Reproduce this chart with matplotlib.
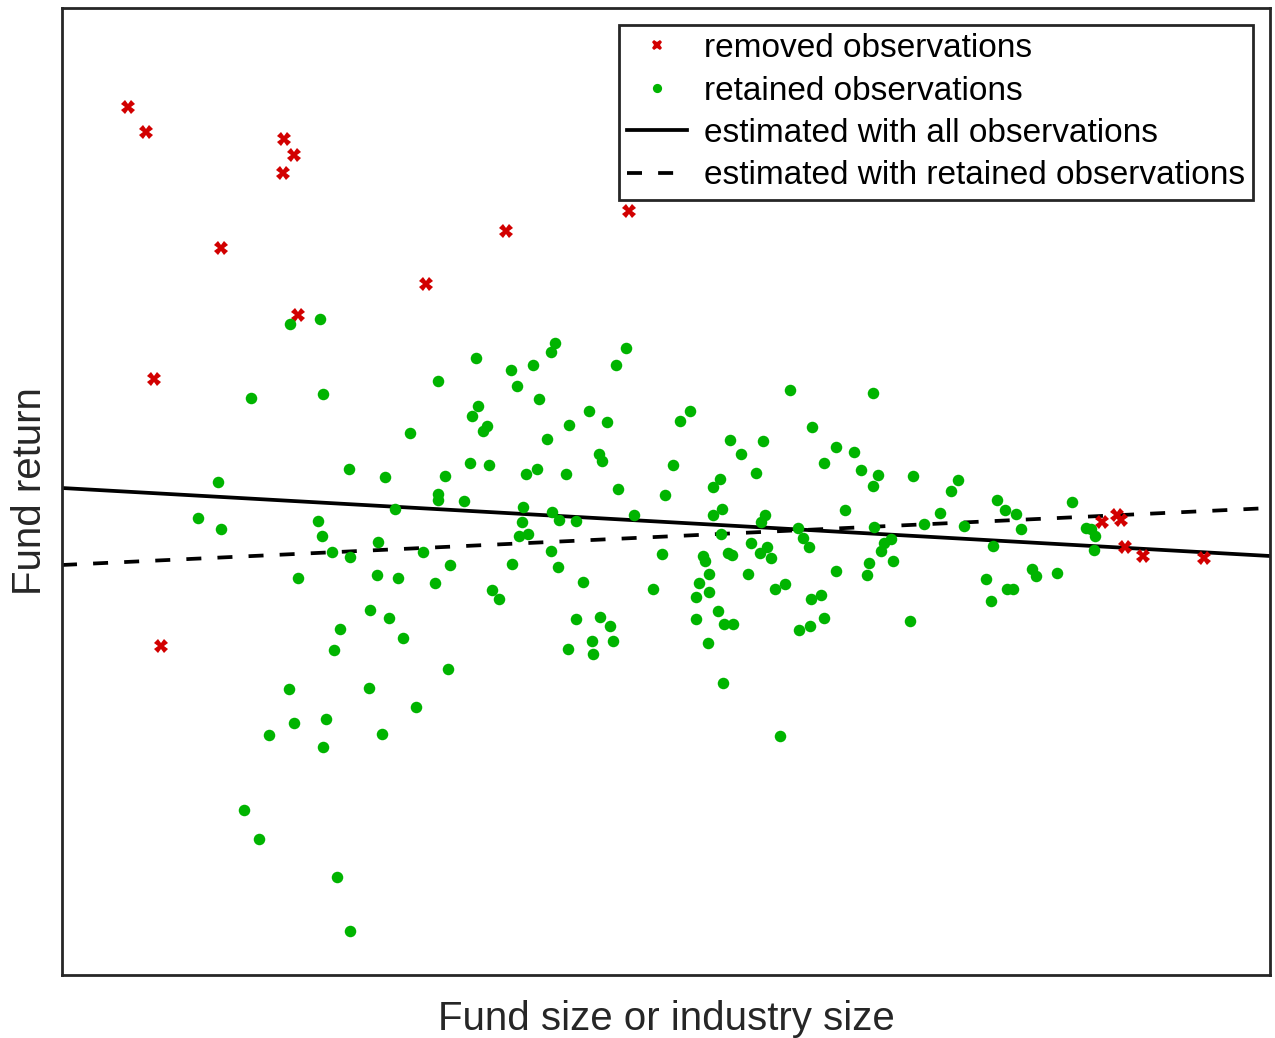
import matplotlib.pyplot as plt

plt.rcParams['font.family'] = ['Liberation Sans', 'DejaVu Sans']

# removed observations (outliers), size vs return, arbitrary units
removed_size = [66, 84, 222, 232, 221, 159, 444, 567, 364, 236, 92, 99,
                1040, 1055, 1059, 1063, 1081, 1142]
removed_return = [868, 843, 836, 820, 802, 727, 744, 764, 691, 660, 596, 329,
                  453, 460, 455, 428, 419, 417]

# retained observations
retained_size = [228, 189, 156, 136, 159, 236, 258, 414, 376, 449, 471, 455, 477, 261, 416, 410,
                 425, 421, 348, 287, 323, 408, 427, 383, 464, 475, 376, 376, 402, 333, 461, 460,
                 256, 260, 316, 270, 288, 361, 457, 466, 388, 450, 315, 336, 373, 430, 437, 308,
                 485, 489, 493, 489, 564, 554, 728, 527, 507, 545, 628, 618, 668, 701, 679, 537,
                 540, 611, 694, 504, 658, 651, 556, 603, 490, 660, 651, 703, 699, 497, 514, 572,
                 659, 496, 600, 689, 705, 698, 709, 641, 643, 666, 670, 521, 591, 647, 637, 647,
                 634, 686, 713, 723, 656, 811, 750, 774, 792, 762, 799, 816, 811, 851, 896, 889,
                 783, 878, 862, 902, 935, 943, 954, 959, 736, 741, 747, 812, 829, 822, 819, 807,
                 805, 831, 774, 931, 759, 749, 762, 748, 737, 848, 924, 945, 951, 929, 970, 1010,
                 1024, 1029, 1033, 1032, 974, 995, 327, 278, 341, 272, 386, 227, 307, 354, 232, 264,
                 207, 261, 320, 182, 197, 275, 288, 514, 538, 548, 530, 551, 506, 531, 634, 662,
                 671, 646, 661, 718]
retained_return = [651, 577, 493, 457, 446, 397, 656, 617, 594, 605, 610, 589, 576, 581, 569, 559,
                   549, 544, 542, 506, 498, 512, 510, 499, 501, 506, 481, 475, 474, 466, 468, 453,
                   454, 439, 433, 423, 418, 423, 439, 441, 410, 411, 400, 397, 392, 385, 376, 365,
                   536, 424, 632, 623, 627, 610, 585, 564, 550, 553, 564, 554, 535, 534, 521, 521,
                   514, 510, 502, 501, 496, 488, 486, 480, 463, 466, 460, 460, 453, 455, 454, 460,
                   441, 408, 421, 432, 428, 422, 417, 419, 414, 422, 420, 393, 386, 401, 392, 383,
                   378, 401, 386, 391, 364, 582, 548, 528, 523, 512, 505, 500, 489, 499, 495, 484,
                   465, 462, 451, 449, 475, 465, 461, 446, 447, 437, 428, 448, 436, 432, 424, 412,
                   400, 414, 404, 429, 380, 376, 357, 349, 345, 354, 396, 386, 386, 374, 406, 473,
                   447, 446, 439, 425, 399, 402, 357, 346, 337, 325, 306, 286, 287, 268, 252, 256,
                   240, 228, 241, 165, 136, 98, 44, 356, 358, 349, 334, 334, 326, 321, 356, 351,
                   351, 332, 292, 239]

# fitted lines (end points at the edges of the x range)
fit_size = [0, 1208]
fit_all = [487, 419]
fit_retained = [410, 467]

red = '#d20000'
green = '#00b400'
dark = '#262626'

fig = plt.figure(figsize=(12.75, 10.38), dpi=100)
ax = fig.add_axes([62 / 1275, 1 - 975 / 1038, 1208 / 1275, 967 / 1038])

l_all, = ax.plot(fit_size, fit_all, color='black', lw=2.7, zorder=2)
l_ret, = ax.plot(fit_size, fit_retained, color='black', lw=2.7, dashes=(4, 4.3), zorder=2)
p_rem, = ax.plot(removed_size, removed_return, 'X', color=red, ms=9.5, mew=0, zorder=3)
p_ret, = ax.plot(retained_size, retained_return, 'o', color=green, ms=8.3, mew=0, zorder=3)

ax.set_xlim(0, 1208)
ax.set_ylim(0, 967)
ax.set_xticks([])
ax.set_yticks([])
for s in ax.spines.values():
    s.set_color(dark)
    s.set_linewidth(2.0)

ax.set_xlabel("Fund size or industry size", fontsize=29, color=dark, labelpad=18)
ax.set_ylabel("Fund return", fontsize=29, color=dark, labelpad=9)

leg = ax.legend([p_rem, p_ret, l_all, l_ret],
                ["removed observations", "retained observations",
                 "estimated with all observations", "estimated with retained observations"],
                loc='upper right', fontsize=24, markerscale=0.8, handlelength=1.8,
                handletextpad=0.5, labelspacing=0.345, borderpad=0.25, borderaxespad=0.5,
                fancybox=False, framealpha=1)
leg.get_frame().set_edgecolor(dark)
leg.get_frame().set_linewidth(2.0)

fig.savefig("out.png", dpi=100)
